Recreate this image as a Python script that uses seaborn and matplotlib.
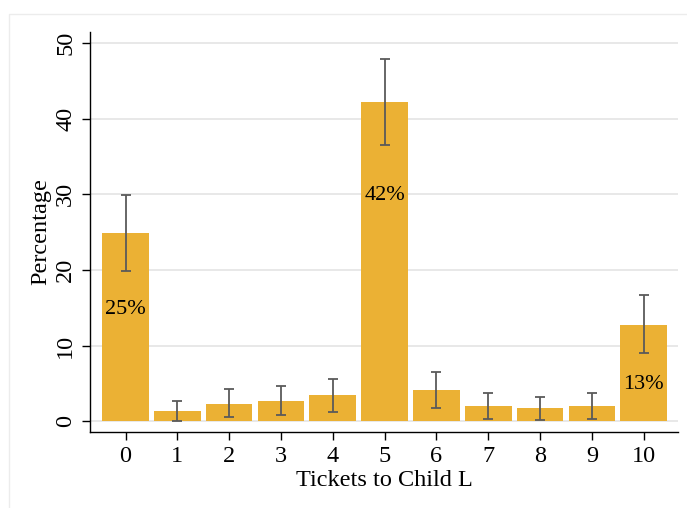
import matplotlib
matplotlib.use("Agg")
import matplotlib.pyplot as plt
from matplotlib.patches import Rectangle
import numpy as np
import pandas as pd
import seaborn as sns

# Share of respondents by number of tickets given to Child L, with 95% CIs
tickets = [0, 1, 2, 3, 4, 5, 6, 7, 8, 9, 10]
percentage = [24.9, 1.3, 2.3, 2.6, 3.4, 42.2, 4.1, 2.0, 1.7, 2.0, 12.7]
ci_low = [19.8, 0.0, 0.6, 0.8, 1.2, 36.5, 1.7, 0.3, 0.15, 0.3, 9.0]
ci_high = [29.9, 2.7, 4.2, 4.6, 5.6, 47.9, 6.5, 3.7, 3.2, 3.7, 16.7]

# Bars carrying a percentage label, and the label's height inside the bar
labelled = {0: 14.8, 5: 29.8, 10: 4.9}

y_ticks = [0, 10, 20, 30, 40, 50]

df = pd.DataFrame({"tickets": tickets, "percentage": percentage})

sns.set_theme(style="white")
plt.rcParams["font.family"] = ["Liberation Serif", "DejaVu Serif"]

fig = plt.figure(figsize=(6.87, 5.08), dpi=100)
fig.patch.set_facecolor("white")
fig.add_artist(Rectangle((9 / 687, -0.05), 1.1, 1 - 14 / 508 + 0.05,
                         transform=fig.transFigure, fill=False,
                         edgecolor="#ececec", linewidth=1.0))

ax = fig.add_axes([90 / 687, 1 - 432 / 508, (678 - 90) / 687, (432 - 32) / 508])

bar_color = "#ebb134"
sns.barplot(data=df, x="tickets", y="percentage", color=bar_color,
            width=0.9, saturation=1, errorbar=None, ax=ax, zorder=2,
            linewidth=0)

pos = np.arange(len(tickets))
vals = np.array(percentage)
err = np.vstack([vals - np.array(ci_low), np.array(ci_high) - vals])
ax.errorbar(pos, vals, yerr=err, fmt="none", ecolor="#5a5a5a",
            elinewidth=1.3, capsize=3.5, capthick=1.3, zorder=3)

for i, ypos in labelled.items():
    ax.text(i, ypos, f"{percentage[i]:.0f}%", ha="center", va="center",
            fontsize=16, color="black", zorder=4)

ax.set_xlim(-0.685, 10.66)
ax.set_ylim(-1.45, 51.5)
ax.set_yticks(y_ticks)
ax.set_yticklabels([str(t) for t in y_ticks], rotation=90, va="center",
                   fontsize=17.5)
ax.set_xticks(pos)
ax.set_xticklabels([str(t) for t in tickets], fontsize=17.5)

for t in y_ticks:
    ax.axhline(t, color="#e6e6e6", linewidth=1.3, zorder=1)

for side in ["top", "right"]:
    ax.spines[side].set_visible(False)
for side in ["left", "bottom"]:
    ax.spines[side].set_color("black")
    ax.spines[side].set_linewidth(1.0)

ax.tick_params(axis="both", which="both", direction="out", length=6,
               width=1.0, color="black", labelcolor="black", pad=4)
ax.tick_params(axis="y", left=True)
ax.tick_params(axis="x", bottom=True)

ax.set_xlabel("Tickets to Child L", fontsize=17.5, color="black", labelpad=2)
ax.set_ylabel("Percentage", fontsize=17.5, color="black", labelpad=3)
ax.grid(False)

fig.savefig("out.png", dpi=100)
